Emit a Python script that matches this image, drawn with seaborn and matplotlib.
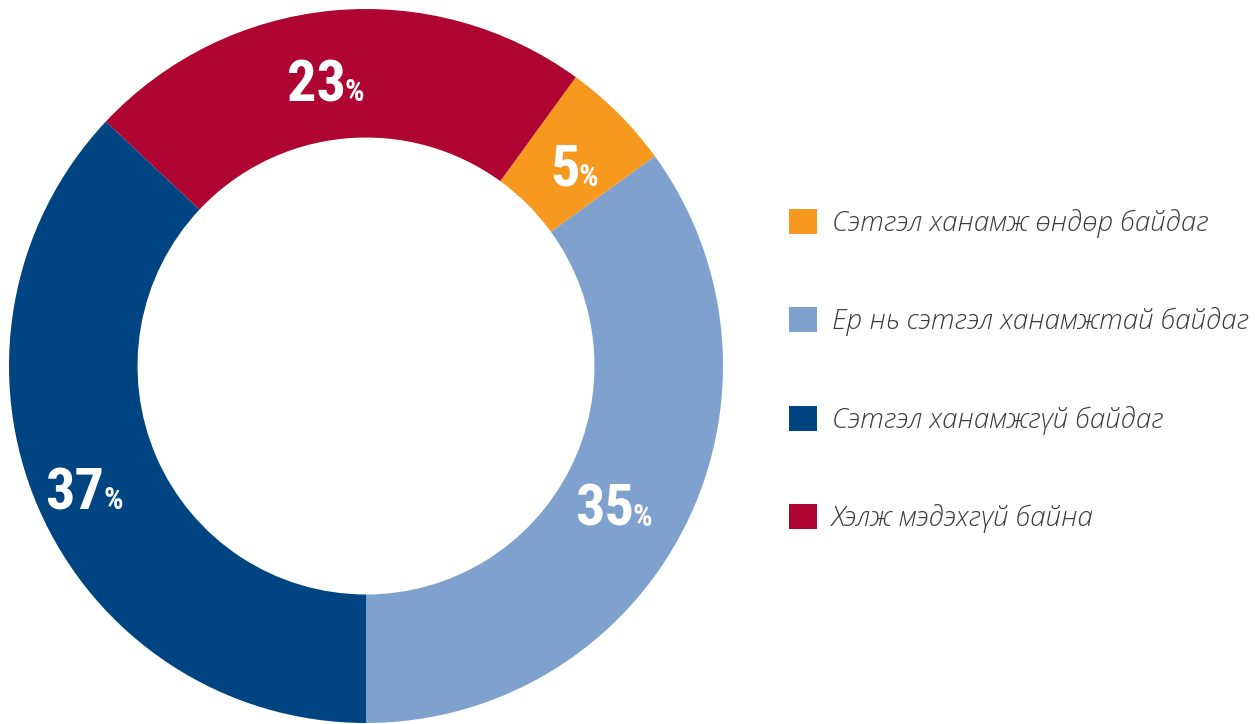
import matplotlib.pyplot as plt
import matplotlib.patches as mpatches
import seaborn as sns
import numpy as np

# ------------------- data

# order of slices on the ring, counter-clockwise from the bottom
slice_labels = [
    "Ер нь сэтгэл ханамжтай байдаг",
    "Сэтгэл ханамж өндөр байдаг",
    "Хэлж мэдэхгүй байна",
    "Сэтгэл ханамжгүй байдаг",
]
slice_values = [35, 5, 23, 37]
slice_colors = ["#7fa1cd", "#f7991f", "#af0532", "#004481"]

# order of the legend entries
legend_order = [
    "Сэтгэл ханамж өндөр байдаг",
    "Ер нь сэтгэл ханамжтай байдаг",
    "Сэтгэл ханамжгүй байдаг",
    "Хэлж мэдэхгүй байна",
]

# ------------------- plot

sns.set_theme(style="white")
plt.rcParams["font.family"] = ["Open Sans", "DejaVu Sans"]

fig = plt.figure(figsize=(12.55, 7.24), dpi=100)
ax = fig.add_axes([9 / 1255, 1 / 724, 714 / 1255, 714 / 724])

ring_width = 0.36
wedges, _ = ax.pie(
    slice_values,
    colors=slice_colors,
    startangle=-90,
    counterclock=True,
    radius=1.0,
    wedgeprops=dict(width=ring_width, edgecolor="none", linewidth=0),
)
ax.set_xlim(-1, 1)
ax.set_ylim(-1, 1)
ax.set_aspect("equal")
ax.axis("off")

num_font = ["Roboto Condensed", "Liberation Sans Narrow", "DejaVu Sans"]
mid_r = 1 - ring_width / 2
for w, v in zip(wedges, slice_values):
    ang = np.deg2rad((w.theta1 + w.theta2) / 2)
    x, y = mid_r * np.cos(ang) + 0.02, mid_r * np.sin(ang) - 0.075
    ax.text(x, y, str(v), ha="right", va="baseline", color="white",
            fontsize=42, fontweight="bold", family=num_font, fontstretch="condensed")
    ax.text(x - 0.004, y, "%", ha="left", va="baseline", color="white",
            fontsize=22, fontweight="bold", family=num_font, fontstretch="condensed")

color_of = dict(zip(slice_labels, slice_colors))
handles = [mpatches.Patch(facecolor=color_of[lab], edgecolor="none", label=lab)
           for lab in legend_order]
fig.legend(
    handles=handles,
    loc="upper left",
    bbox_to_anchor=(789 / 1255, 1 - 209 / 724),
    frameon=False,
    borderpad=0,
    borderaxespad=0,
    handlelength=1.0,
    handleheight=1.0,
    handletextpad=0.55,
    labelspacing=2.5,
    prop=dict(family=["Open Sans", "DejaVu Sans"], style="italic", weight="light", size=20),
    labelcolor="#3c3c3c",
)

fig.savefig("out.png", dpi=100, facecolor="white")
